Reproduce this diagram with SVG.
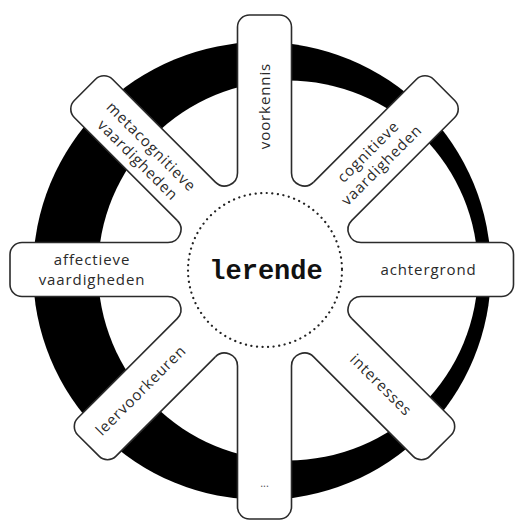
<svg xmlns="http://www.w3.org/2000/svg" width="515" height="521" viewBox="0 0 515 521">
<style>
.outline{fill:none;stroke:#2b2b2b;stroke-width:1.6;stroke-linejoin:round}
.lbl{font-family:"Open Sans","Noto Sans","DejaVu Sans",sans-serif;font-size:15px;fill:#2a2a2a;text-anchor:middle;letter-spacing:0.9px}
.core{font-family:"Liberation Mono","DejaVu Sans Mono",monospace;font-size:27px;font-weight:bold;fill:#111;text-anchor:middle}
</style>
<rect width="515" height="521" fill="#fff"/>
<g id="ring">
<circle cx="262" cy="271" r="229" fill="#000"/>
<circle cx="288" cy="270.5" r="190" fill="#fff"/>
</g>
<g id="wheel-fill">
<path fill="#fff" d="M 361 242.5 L 501.5 242.5 A 12 12 0 0 1 513.5 254.5 L 513.5 284.5 A 12 12 0 0 1 501.5 296.5 L 361 296.5 A 13 13 0 0 0 351.83 318.65 L 451.17 417.99 A 12 12 0 0 1 451.18 434.96 L 429.96 456.18 A 12 12 0 0 1 412.99 456.17 L 313.65 356.83 A 13 13 0 0 0 291.5 366 L 291.5 507 A 12 12 0 0 1 279.5 519 L 249.5 519 A 12 12 0 0 1 237.5 507 L 237.5 366 A 13 13 0 0 0 215.35 356.83 L 116.01 456.17 A 12 12 0 0 1 99.04 456.18 L 77.82 434.96 A 12 12 0 0 1 77.83 417.99 L 177.17 318.65 A 13 13 0 0 0 168 296.5 L 22 296.5 A 12 12 0 0 1 10 284.5 L 10 254.5 A 12 12 0 0 1 22 242.5 L 168 242.5 A 13 13 0 0 0 177.17 220.35 L 74.29 117.47 A 12 12 0 0 1 74.29 100.51 L 95.51 79.29 A 12 12 0 0 1 112.47 79.29 L 215.35 182.17 A 13 13 0 0 0 237.5 173 L 237.5 27 A 12 12 0 0 1 249.5 15 L 279.5 15 A 12 12 0 0 1 291.5 27 L 291.5 173 A 13 13 0 0 0 313.65 182.17 L 416.53 79.29 A 12 12 0 0 1 433.49 79.29 L 454.71 100.51 A 12 12 0 0 1 454.71 117.47 L 351.83 220.35 A 13 13 0 0 0 361 242.5 Z"/>
</g>
<g id="achtergrond">
<path class="outline" d="M 361 242.5 L 501.5 242.5 A 12 12 0 0 1 513.5 254.5 L 513.5 284.5 A 12 12 0 0 1 501.5 296.5 L 361 296.5 A 13 13 0 0 0 351.83 318.65"/>
<text class="lbl" x="428.5" y="275">achtergrond</text>
</g>
<g id="interesses">
<path class="outline" d="M 351.83 318.65 L 451.17 417.99 A 12 12 0 0 1 451.18 434.96 L 429.96 456.18 A 12 12 0 0 1 412.99 456.17 L 313.65 356.83 A 13 13 0 0 0 291.5 366"/>
<text class="lbl" transform="translate(381,385) rotate(45)" x="0" y="5">interesses</text>
</g>
<g id="more">
<path class="outline" d="M 291.5 366 L 291.5 507 A 12 12 0 0 1 279.5 519 L 249.5 519 A 12 12 0 0 1 237.5 507 L 237.5 366 A 13 13 0 0 0 215.35 356.83"/>
<text class="lbl" x="264.5" y="487" style="font-size:11px;letter-spacing:0;fill:#555">...</text>
</g>
<g id="leervoorkeuren">
<path class="outline" d="M 215.35 356.83 L 116.01 456.17 A 12 12 0 0 1 99.04 456.18 L 77.82 434.96 A 12 12 0 0 1 77.83 417.99 L 177.17 318.65 A 13 13 0 0 0 168 296.5"/>
<text class="lbl" transform="translate(141,390.5) rotate(-45)" x="0" y="5">leervoorkeuren</text>
</g>
<g id="affectieve">
<path class="outline" d="M 168 296.5 L 22 296.5 A 12 12 0 0 1 10 284.5 L 10 254.5 A 12 12 0 0 1 22 242.5 L 168 242.5 A 13 13 0 0 0 177.17 220.35"/>
<text class="lbl" x="92" y="265">affectieve</text>
<text class="lbl" x="92" y="285">vaardigheden</text>
</g>
<g id="metacognitieve">
<path class="outline" d="M 177.17 220.35 L 74.29 117.47 A 12 12 0 0 1 74.29 100.51 L 95.51 79.29 A 12 12 0 0 1 112.47 79.29 L 215.35 182.17 A 13 13 0 0 0 237.5 173"/>
<g transform="translate(144.5,153.5) rotate(45)">
<text class="lbl" x="0" y="-4.5">metacognitieve</text>
<text class="lbl" x="0" y="14.5">vaardigheden</text>
</g>
</g>
<g id="voorkennis">
<path class="outline" d="M 237.5 173 L 237.5 27 A 12 12 0 0 1 249.5 15 L 279.5 15 A 12 12 0 0 1 291.5 27 L 291.5 173 A 13 13 0 0 0 313.65 182.17"/>
<text class="lbl" transform="translate(264.5,106) rotate(-90)" x="0" y="5">voorkennis</text>
</g>
<g id="cognitieve">
<path class="outline" d="M 313.65 182.17 L 416.53 79.29 A 12 12 0 0 1 433.49 79.29 L 454.71 100.51 A 12 12 0 0 1 454.71 117.47 L 351.83 220.35 A 13 13 0 0 0 361 242.5"/>
<g transform="translate(375,158.5) rotate(-45)">
<text class="lbl" x="0" y="-4.5">cognitieve</text>
<text class="lbl" x="0" y="14.5">vaardigheden</text>
</g>
</g>
<g id="lerende">
<circle cx="265" cy="270" r="77" fill="none" stroke="#222" stroke-width="2.2" stroke-linecap="round" stroke-dasharray="0.1 5.5"/>
<text class="core" x="266" y="279">lerende</text>
</g>
</svg>
